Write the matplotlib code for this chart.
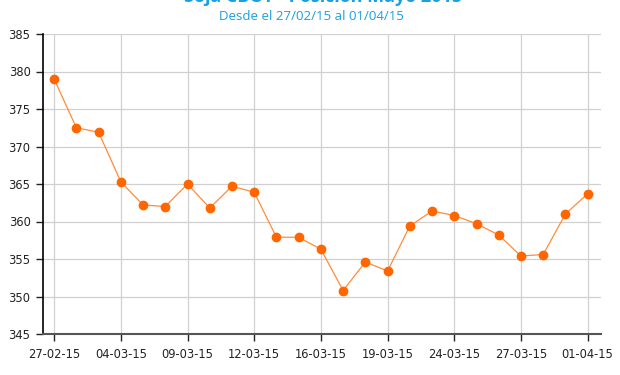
import matplotlib.pyplot as plt

# Soja CBOT - posicion mayo 2015, cierres diarios
prices = [379.0, 372.5, 371.9, 365.3, 362.2, 362.0, 365.0, 361.8, 364.7,
          363.9, 357.9, 357.9, 356.3, 350.8, 354.6, 353.4, 359.4, 361.4,
          360.8, 359.7, 358.2, 355.4, 355.6, 361.0, 363.7]
tick_pos = [0, 3, 6, 9, 12, 15, 18, 21, 24]
tick_labels = ["27-02-15", "04-03-15", "09-03-15", "12-03-15", "16-03-15",
               "19-03-15", "24-03-15", "27-03-15", "01-04-15"]
y_ticks = [345, 350, 355, 360, 365, 370, 375, 380, 385]

title = "Soja CBOT - Posición Mayo 2015"
subtitle = "Desde el 27/02/15 al 01/04/15"

fig = plt.figure(figsize=(6.2, 3.75), dpi=100)
ax = fig.add_axes([43 / 620, 1 - 334 / 375, 558 / 620, 300 / 375])

x = list(range(len(prices)))
ax.plot(x, prices, color="#ff8c3a", lw=0.9, zorder=3)
ax.plot(x, prices, "o", color="#ff6600", ms=6, mec="#ff6600", zorder=4)

ax.set_xlim(-0.5, 24.6)
ax.set_ylim(345, 385)
ax.set_xticks(tick_pos)
ax.set_xticklabels(tick_labels)
ax.set_yticks(y_ticks)
ax.grid(True, color="#d0d0d0", lw=0.9)
ax.set_axisbelow(True)

for s in ["top", "right"]:
    ax.spines[s].set_visible(False)
ax.spines["left"].set_color("black")
ax.spines["left"].set_linewidth(1.2)
ax.spines["bottom"].set_color("#555555")
ax.spines["bottom"].set_linewidth(1.5)

ax.tick_params(axis="both", labelsize=8.3, colors="#222222", length=5, width=1)
ax.tick_params(axis="x", pad=5)
ax.tick_params(axis="y", pad=4)

# el titulo queda cortado arriba, como en la imagen original
fig.text(323 / 620, 1 + 3 / 375, title, ha="center", va="center",
         fontsize=13, fontweight="bold", color="#1a9fe0", family="Open Sans")
fig.text(311 / 620, 1 - 16 / 375, subtitle, ha="center", va="center",
         fontsize=9.5, color="#1a9fe0", family="Open Sans")

fig.savefig("out.png", dpi=100)
